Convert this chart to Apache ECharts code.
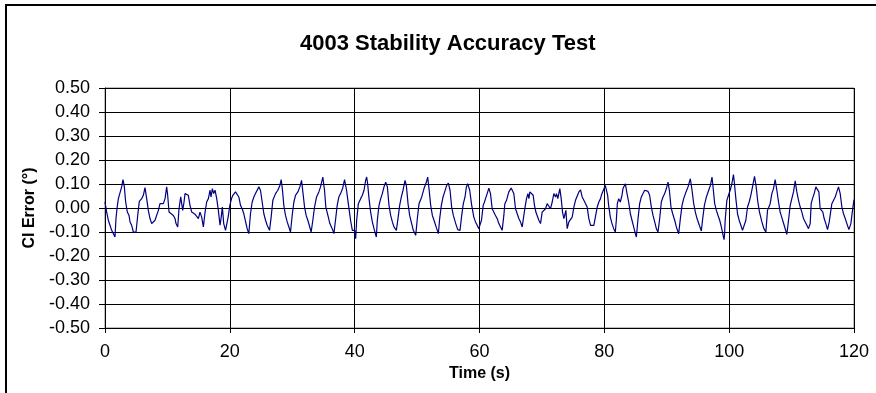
<!DOCTYPE html>
<html>
<head>
<meta charset="utf-8">
<script src="https://cdn.jsdelivr.net/npm/echarts@6/dist/echarts.min.js"></script>
<style>
  html, body { margin: 0; padding: 0; background: #fff; }
  #main { position: absolute; left: 0; top: 0; width: 876px; height: 393px; }
  #frame { position: absolute; left: 5px; top: 4px; width: 900px; height: 420px;
           border: 2px solid #000; pointer-events: none; }
</style>
</head>
<body>
<div id="main"></div>
<div id="frame"></div>
<script>
// time (s) and CI error (deg)
const timeS = [
  0.00, 0.27, 0.53, 0.80, 1.07, 1.34, 1.60, 1.76, 1.92, 2.14, 2.40, 2.67, 2.88, 3.10, 3.31, 3.58, 3.85, 4.01, 4.27, 4.54,
  4.81, 4.97, 5.24, 5.50, 5.88, 6.14, 6.41, 6.68, 6.94, 7.21, 7.48, 7.75, 8.01, 8.28, 8.55, 8.81, 9.08, 9.35, 9.62, 9.88,
  10.04, 10.26, 10.58, 10.95, 11.22, 11.38, 11.65, 11.86, 12.13, 12.29, 12.45, 12.66, 12.82, 13.09, 13.35, 13.62, 13.89, 14.16, 14.42, 14.69,
  14.96, 15.22, 15.49, 15.76, 16.03, 16.29, 16.56, 16.83, 16.99, 17.20, 17.41, 17.63, 17.90, 18.16, 18.43, 18.59, 18.80, 19.02, 19.31, 19.57,
  19.73, 20.00, 20.27, 20.48, 20.64, 20.91, 21.18, 21.44, 21.71, 21.98, 22.24, 22.51, 22.78, 23.04, 23.31, 23.58, 23.85, 24.11, 24.38, 24.65,
  24.91, 25.18, 25.45, 25.72, 25.98, 26.36, 26.62, 26.89, 27.32, 27.69, 28.01, 28.23, 28.44, 28.65, 28.92, 29.19, 29.46, 29.72, 29.99, 30.26,
  30.52, 30.90, 31.22, 31.49, 31.70, 31.97, 32.23, 32.50, 32.77, 33.03, 33.30, 33.57, 33.89, 34.26, 34.53, 34.90, 35.17, 35.38, 35.71, 36.03,
  36.40, 36.67, 36.93, 37.20, 37.47, 37.74, 38.06, 38.38, 38.70, 39.02, 39.34, 39.63, 40.00, 40.16, 40.32, 40.59, 40.96, 41.23, 41.50, 41.76,
  41.92, 42.08, 42.30, 42.56, 42.83, 43.10, 43.47, 43.63, 43.90, 44.17, 44.43, 44.70, 44.97, 45.24, 45.50, 45.77, 46.04, 46.30, 46.68, 46.94,
  47.21, 47.48, 47.75, 48.07, 48.28, 48.55, 48.81, 49.13, 49.40, 49.78, 50.04, 50.31, 50.74, 51.11, 51.49, 51.70, 51.91, 52.18, 52.45, 52.71,
  53.09, 53.41, 53.62, 53.89, 54.16, 54.42, 54.74, 55.01, 55.28, 55.54, 55.81, 56.19, 56.51, 56.88, 57.15, 57.41, 57.68, 57.90, 58.11, 58.43,
  58.75, 59.09, 59.36, 59.63, 59.89, 60.05, 60.32, 60.59, 60.80, 60.96, 61.23, 61.50, 61.76, 62.03, 62.30, 62.56, 62.83, 63.10, 63.37, 63.63,
  63.90, 64.06, 64.33, 64.54, 64.70, 64.86, 65.07, 65.29, 65.50, 65.77, 66.04, 66.30, 66.57, 66.84, 67.10, 67.26, 67.53, 67.75, 67.91, 68.07,
  68.33, 68.60, 68.81, 69.03, 69.24, 69.51, 69.78, 70.04, 70.31, 70.58, 70.84, 71.11, 71.38, 71.65, 71.91, 72.18, 72.34, 72.55, 72.71, 72.87,
  73.09, 73.30, 73.52, 73.68, 73.84, 74.05, 74.32, 74.58, 74.85, 75.12, 75.38, 75.65, 75.92, 76.19, 76.45, 76.72, 76.99, 77.25, 77.52, 77.79,
  78.06, 78.32, 78.59, 78.86, 79.12, 79.39, 79.52, 79.73, 79.95, 80.16, 80.32, 80.53, 80.69, 80.96, 81.23, 81.50, 81.76, 81.92, 82.08, 82.30,
  82.56, 82.83, 82.99, 83.15, 83.37, 83.63, 83.90, 84.17, 84.43, 84.70, 84.97, 85.13, 85.40, 85.66, 85.93, 86.20, 86.46, 86.73, 87.00, 87.26,
  87.53, 87.80, 88.07, 88.33, 88.60, 88.87, 89.13, 89.40, 89.67, 89.94, 90.20, 90.42, 90.68, 90.95, 91.27, 91.54, 91.91, 92.18, 92.45, 92.71,
  93.09, 93.41, 93.78, 94.05, 94.32, 94.58, 94.85, 95.22, 95.54, 95.76, 96.03, 96.35, 96.72, 96.99, 97.25, 97.47, 97.68, 97.95, 98.22, 98.48,
  98.75, 99.02, 99.18, 99.25, 99.36, 99.63, 99.89, 100.16, 100.43, 100.69, 100.85, 101.07, 101.34, 101.60, 101.87, 102.14, 102.40, 102.67, 102.94, 103.21,
  103.47, 103.74, 104.06, 104.33, 104.59, 104.86, 105.24, 105.56, 105.88, 106.14, 106.36, 106.57, 106.84, 107.10, 107.37, 107.64, 107.91, 108.17, 108.49, 108.81,
  109.24, 109.51, 109.78, 110.04, 110.31, 110.58, 110.84, 111.11, 111.38, 111.65, 111.91, 112.18, 112.45, 112.71, 112.98, 113.14, 113.35, 113.62, 113.89, 114.16,
  114.37, 114.58, 114.80, 115.01, 115.22, 115.49, 115.76, 116.03, 116.19, 116.45, 116.72, 116.99, 117.25, 117.52, 117.79, 118.06, 118.32, 118.59, 118.86, 119.18,
  119.50, 119.76, 120.00
];
const ciError = [
  0.025, -0.017, -0.051, -0.072, -0.093, -0.100, -0.121, -0.044, -0.003, 0.039, 0.046, 0.088, 0.118, 0.088, 0.025, -0.017, -0.031, -0.058, -0.072, -0.100,
  -0.107, -0.100, -0.031, 0.028, 0.039, 0.053, 0.085, 0.039, -0.010, -0.044, -0.065, -0.065, -0.051, -0.058, -0.010, 0.018, 0.025, 0.018, 0.039, 0.088,
  0.053, -0.017, -0.024, -0.031, -0.044, -0.065, -0.079, -0.003, 0.046, 0.039, -0.010, 0.025, 0.060, 0.063, 0.053, 0.011, -0.017, -0.017, -0.026, -0.031,
  -0.044, -0.017, -0.038, -0.079, -0.017, 0.025, 0.039, 0.074, 0.046, 0.081, 0.060, 0.074, 0.039, -0.010, -0.072, -0.044, 0.004, -0.065, -0.093, -0.086,
  -0.038, 0.011, 0.039, 0.053, 0.060, 0.067, 0.074, 0.046, 0.011, -0.003, -0.024, -0.017, -0.086, -0.107, -0.024, 0.025, 0.046, 0.060, 0.067, 0.088,
  0.074, 0.025, -0.024, -0.051, -0.072, -0.093, -0.038, 0.032, 0.060, 0.074, 0.094, 0.118, 0.074, 0.011, -0.031, -0.058, -0.079, -0.100, -0.031, 0.025,
  0.053, 0.067, 0.088, 0.115, 0.067, 0.004, -0.031, -0.051, -0.076, -0.100, -0.051, 0.004, 0.046, 0.067, 0.088, 0.129, 0.074, 0.004, -0.031, -0.065,
  -0.086, -0.107, -0.051, 0.011, 0.046, 0.060, 0.081, 0.118, 0.074, 0.011, -0.051, -0.093, -0.093, -0.128, -0.051, 0.018, 0.039, 0.053, 0.074, 0.115,
  0.129, 0.101, 0.039, -0.017, -0.058, -0.086, -0.121, -0.051, 0.011, 0.039, 0.060, 0.088, 0.108, 0.088, 0.011, -0.031, -0.058, -0.079, -0.093, -0.044,
  0.011, 0.046, 0.074, 0.115, 0.094, 0.018, -0.031, -0.065, -0.093, -0.114, -0.044, 0.018, 0.046, 0.081, 0.108, 0.129, 0.081, 0.011, -0.031, -0.051,
  -0.082, -0.107, -0.044, 0.011, 0.046, 0.067, 0.094, 0.104, 0.074, 0.004, -0.031, -0.065, -0.090, -0.093, -0.031, 0.018, 0.046, 0.088, 0.101, 0.074,
  0.011, -0.038, -0.058, -0.072, -0.086, -0.093, -0.051, 0.011, 0.025, 0.039, 0.060, 0.083, 0.060, -0.003, -0.010, -0.031, -0.044, -0.065, -0.079, -0.093,
  -0.031, 0.018, 0.032, 0.053, 0.067, 0.074, 0.083, 0.081, 0.060, -0.003, -0.024, -0.044, -0.058, -0.079, -0.086, -0.003, 0.039, 0.060, 0.039, 0.067,
  0.074, 0.053, 0.011, -0.017, -0.010, -0.051, -0.065, -0.017, -0.010, -0.003, 0.018, 0.025, -0.003, 0.025, 0.060, 0.046, 0.060, 0.039, 0.060, 0.081,
  0.039, -0.017, -0.044, -0.038, -0.010, -0.086, -0.058, -0.051, -0.038, 0.004, 0.032, 0.039, 0.067, 0.076, 0.046, 0.032, 0.039, 0.004, -0.044, -0.072,
  -0.079, -0.072, -0.079, 0.004, 0.025, 0.039, 0.053, 0.067, 0.060, 0.094, 0.088, 0.053, 0.011, -0.038, -0.065, -0.086, -0.100, -0.051, 0.018, 0.039,
  0.025, 0.053, 0.081, 0.074, 0.101, 0.060, 0.025, -0.024, -0.051, -0.079, -0.107, -0.121, -0.044, 0.018, 0.046, 0.060, 0.074, 0.071, 0.069, 0.053,
  0.004, -0.031, -0.058, -0.086, -0.100, -0.044, 0.025, 0.046, 0.060, 0.081, 0.108, 0.074, 0.004, -0.024, -0.051, -0.079, -0.107, -0.044, 0.011, 0.039,
  0.067, 0.088, 0.122, 0.074, 0.018, -0.017, -0.044, -0.072, -0.096, -0.044, 0.011, 0.046, 0.074, 0.094, 0.129, 0.074, 0.018, -0.010, -0.031, -0.051,
  -0.079, -0.114, -0.132, -0.114, -0.051, 0.032, 0.053, 0.074, 0.101, 0.139, 0.101, 0.039, -0.024, -0.051, -0.072, -0.093, -0.100, -0.051, 0.004, 0.025,
  0.053, 0.088, 0.132, 0.088, 0.025, -0.017, -0.058, -0.086, -0.100, -0.010, -0.003, 0.018, 0.060, 0.081, 0.118, 0.074, 0.025, -0.017, -0.044, -0.072,
  -0.110, -0.051, 0.011, 0.039, 0.067, 0.113, 0.067, 0.032, 0.004, -0.017, -0.044, -0.058, -0.072, -0.086, -0.065, 0.018, 0.039, 0.060, 0.088, 0.090,
  0.067, -0.003, 0.004, -0.017, -0.044, -0.065, -0.090, -0.058, -0.051, 0.018, 0.025, 0.046, 0.067, 0.088, 0.060, 0.004, -0.024, -0.044, -0.051, -0.090,
  -0.065, -0.010, 0.035
];

const chartTitle = '4003 Stability Accuracy Test';
const xName = 'Time (s)';
const yName = 'CI Error (°)';

const points = timeS.map((t, i) => [t, ciError[i]]);
const font = 'Liberation Sans, Arial, sans-serif';

const chart = echarts.init(document.getElementById('main'), null, {renderer: 'canvas'});
const option = {
  animation: false,
  backgroundColor: '#fff',
  textStyle: {fontFamily: font},
  title: {
    text: chartTitle,
    left: 295,
    top: 28,
    textStyle: {fontFamily: font, fontSize: 22, fontWeight: 'bold', color: '#000'}
  },
  grid: {
    left: 105, right: 22, top: 88, bottom: 65,
    show: true, borderColor: '#808080', borderWidth: 1
  },
  xAxis: {
    type: 'value',
    min: 0, max: 120, interval: 20,
    name: xName,
    nameLocation: 'middle',
    nameGap: 33,
    nameTextStyle: {fontFamily: font, fontSize: 16, fontWeight: 'bold', color: '#000'},
    axisLine: {show: true, onZero: false, lineStyle: {color: '#000', width: 1}},
    axisTick: {show: true, length: 5, lineStyle: {color: '#000'}},
    axisLabel: {margin: 15, fontSize: 18, color: '#000', fontFamily: font},
    splitLine: {show: true, lineStyle: {color: '#000', width: 1}}
  },
  yAxis: {
    type: 'value',
    min: -0.5, max: 0.5, interval: 0.1,
    name: yName,
    nameLocation: 'middle',
    nameGap: 66,
    nameTextStyle: {fontFamily: font, fontSize: 16, fontWeight: 'bold', color: '#000'},
    axisLine: {show: true, lineStyle: {color: '#000', width: 1}},
    axisTick: {show: true, length: 6, lineStyle: {color: '#000'}},
    axisLabel: {margin: 15, fontSize: 18, color: '#000', fontFamily: font,
      formatter: v => v.toFixed(2)},
    splitLine: {show: true, lineStyle: {color: '#000', width: 1}}
  },
  series: [{
    type: 'line',
    data: points,
    showSymbol: false,
    symbol: 'none',
    lineStyle: {color: '#000080', width: 1.2},
    itemStyle: {color: '#000080'}
  }]
};
chart.setOption(option);
</script>
</body>
</html>
